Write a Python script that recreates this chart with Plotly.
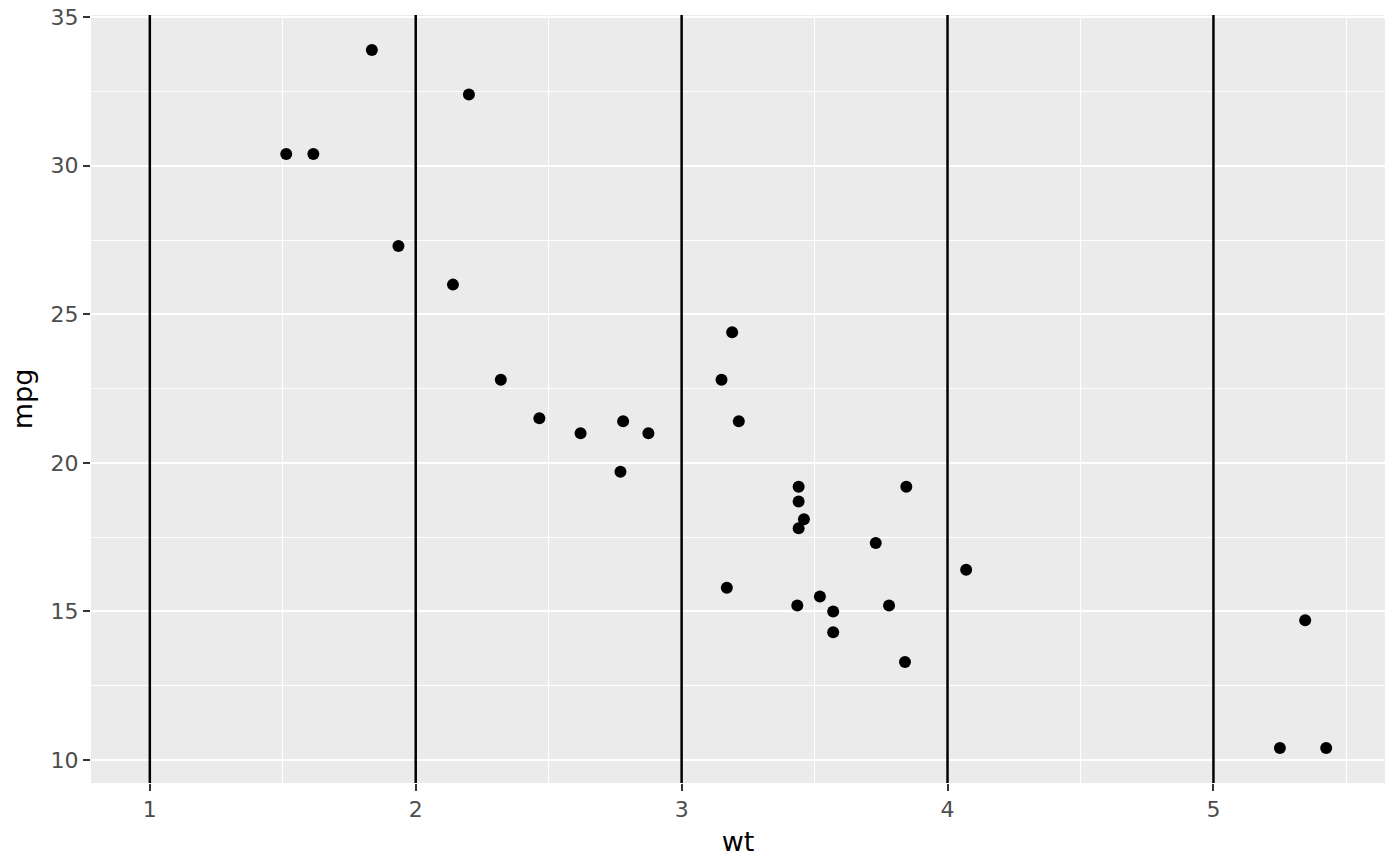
import plotly.graph_objects as go

wt = [2.620, 2.875, 2.320, 3.215, 3.440, 3.460, 3.570, 3.190, 3.150, 3.440, 3.440,
      4.070, 3.730, 3.780, 5.250, 5.424, 5.345, 2.200, 1.615, 1.835, 2.465, 3.520,
      3.435, 3.840, 3.845, 1.935, 2.140, 1.513, 3.170, 2.770, 3.570, 2.780]
mpg = [21.0, 21.0, 22.8, 21.4, 18.7, 18.1, 14.3, 24.4, 22.8, 19.2, 17.8,
       16.4, 17.3, 15.2, 10.4, 10.4, 14.7, 32.4, 30.4, 33.9, 21.5, 15.5,
       15.2, 13.3, 19.2, 27.3, 26.0, 30.4, 15.8, 19.7, 15.0, 21.4]
vline_x = [1, 2, 3, 4, 5]
x_ticks = [1, 2, 3, 4, 5]
y_ticks = [10, 15, 20, 25, 30, 35]

fig = go.Figure()
fig.add_trace(go.Scatter(x=wt, y=mpg, mode="markers",
                         marker=dict(color="black", size=12, line=dict(width=0)),
                         showlegend=False, hoverinfo="skip"))

for xv in vline_x:
    fig.add_shape(type="line", x0=xv, x1=xv, xref="x", y0=0, y1=1, yref="y domain",
                  line=dict(color="black", width=2.5), layer="above")

font = "DejaVu Sans, Liberation Sans, sans-serif"
fig.update_layout(
    width=1400, height=866,
    margin=dict(l=91, r=15, t=15, b=83),
    paper_bgcolor="white", plot_bgcolor="#EBEBEB",
    font=dict(family=font, color="#4D4D4D"),
    xaxis=dict(range=[0.7788, 5.6452], tickvals=x_ticks, ticktext=[str(v) for v in x_ticks],
               showgrid=True, gridcolor="white", gridwidth=2, automargin=False,
               ticklabeloverflow="allow",
               minor=dict(dtick=0.5, tick0=0.5, showgrid=True, gridcolor="white", gridwidth=1, ticks=""),
               ticks="outside", ticklen=7, tickwidth=2, tickcolor="#333333",
               tickfont=dict(size=22, color="#4D4D4D"), zeroline=False, showline=False,
               title=dict(text="wt", font=dict(size=27, color="black"), standoff=10)),
    yaxis=dict(range=[9.225, 35.075], tickvals=y_ticks, ticktext=[str(v) for v in y_ticks],
               showgrid=True, gridcolor="white", gridwidth=2, automargin=False,
               ticklabeloverflow="allow",
               minor=dict(dtick=2.5, tick0=2.5, showgrid=True, gridcolor="white", gridwidth=1, ticks=""),
               ticks="outside", ticklen=7, tickwidth=2, tickcolor="#333333",
               tickfont=dict(size=22, color="#4D4D4D"), zeroline=False, showline=False,
               title=dict(text="mpg", font=dict(size=27, color="black"), standoff=10)),
)

fig.write_html("out.html", post_script="document.body.style.margin='0';",
               config={"displayModeBar": False})
